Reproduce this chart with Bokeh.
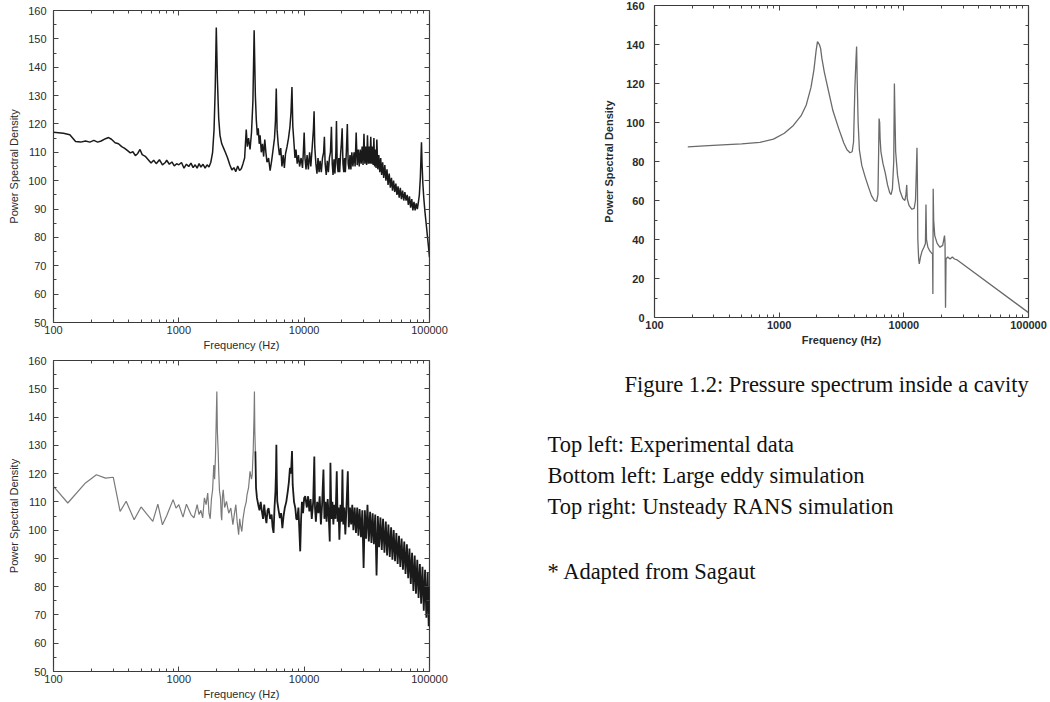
from bokeh.plotting import figure
from bokeh.layouts import row, column
from bokeh.models import FixedTicker, LogAxis, LinearAxis, Label
from bokeh.embed import file_html
from bokeh.resources import INLINE

# ---------------- data ----------------
x_tick_values = [100, 1000, 10000, 100000]
x_tick_labels = ["100", "1000", "10000", "100000"]

# Top left: experimental data (Hz, PSD)
exp_points = [
    (100, 117.1), (120, 116.7), (135, 116.2), (150, 113.8), (165, 113.6), (180, 114.0),
    (195, 113.6), (210, 114.2), (225, 113.6), (240, 114.0), (260, 114.8), (275, 115.2),
    (290, 114.6), (310, 113.4), (330, 113.0), (350, 112.0), (370, 111.4), (390, 110.6),
    (410, 109.8), (430, 110.2), (450, 108.8), (470, 109.6), (490, 111.0), (510, 109.2),
    (540, 108.6), (570, 107.4), (600, 106.2), (630, 107.2), (660, 106.0), (700, 107.4),
    (740, 105.6), (780, 106.4), (800, 107.2), (840, 105.8), (880, 106.6), (920, 105.2),
    (960, 106.0), (1000, 105.6), (1050, 106.4), (1100, 104.4), (1150, 105.8), (1200, 105.0),
    (1250, 106.2), (1300, 104.6), (1350, 105.6), (1400, 104.4), (1450, 106.0), (1500, 104.8),
    (1560, 105.8), (1620, 104.4), (1680, 105.6), (1740, 104.8), (1800, 106.5), (1860, 110.0),
    (1910, 118.0), (1950, 132.0), (1990, 154.0), (2030, 136.0), (2080, 122.0), (2130, 116.0),
    (2200, 113.0), (2280, 111.4), (2350, 110.0), (2450, 108.0), (2550, 105.6), (2650, 103.8),
    (2750, 104.6), (2850, 103.2), (2950, 105.2), (3050, 103.6), (3150, 104.2), (3250, 106.0),
    (3350, 108.0), (3450, 118.0), (3520, 112.0), (3600, 115.0), (3700, 111.0), (3800, 117.0),
    (3900, 128.0), (3990, 153.0), (4080, 130.0), (4150, 121.5), (4230, 116.0), (4300, 118.5),
    (4380, 113.0), (4450, 116.0), (4550, 110.0), (4650, 113.0), (4750, 108.5), (4850, 114.5),
    (4950, 110.0), (5050, 106.5), (5200, 108.0), (5350, 103.5), (5500, 107.0), (5650, 111.0),
    (5800, 115.0), (5900, 121.0), (5990, 132.5), (6080, 118.0), (6200, 113.0), (6350, 109.0),
    (6500, 111.5), (6650, 105.0), (6800, 109.0), (6950, 104.5), (7100, 109.5), (7300, 112.0),
    (7500, 115.0), (7700, 119.0), (7850, 124.0), (7990, 133.0), (8120, 119.0), (8300, 113.0),
    (8450, 108.0), (8600, 111.0), (8800, 106.0), (9000, 109.0), (9200, 105.0), (9450, 108.0),
    (9700, 104.5), (9850, 110.0), (10000, 117.0), (10150, 108.0), (10350, 104.0), (10550, 109.0),
    (10800, 104.0), (11050, 110.0), (11300, 105.0), (11600, 112.0), (11850, 118.0), (12000, 124.5),
    (12150, 112.0), (12400, 106.0), (12650, 102.5), (12900, 108.0), (13150, 103.0), (13400, 107.0),
    (13700, 103.0), (14000, 108.0), (14300, 110.0), (14500, 115.5), (14700, 106.0), (15000, 102.0),
    (15300, 107.0), (15600, 103.0), (15900, 108.0), (16200, 110.0), (16500, 119.0), (16750, 106.0),
    (17000, 102.0), (17300, 107.5), (17600, 102.5), (17900, 110.0), (18100, 121.0), (18350, 106.0),
    (18650, 103.0), (18900, 108.0), (19200, 103.0), (19500, 109.0), (19800, 113.0), (20100, 118.5),
    (20400, 106.0), (20700, 103.0), (21000, 108.0), (21300, 103.0), (21700, 110.0), (22100, 120.0),
    (22450, 106.0), (22800, 104.0), (23200, 109.0), (23600, 104.0), (24000, 110.0), (24500, 105.0),
    (25000, 110.0), (25500, 105.0), (26000, 117.0), (26500, 105.5), (27000, 111.0), (27500, 105.0),
    (28000, 111.0), (28500, 106.0), (29000, 112.0), (29500, 105.5), (30000, 116.5), (30500, 106.0),
    (31000, 112.0), (31500, 105.5), (32000, 116.0), (32500, 106.0), (33000, 112.0), (33500, 106.0),
    (34000, 115.5), (34500, 106.0), (35000, 112.0), (35500, 105.5), (36000, 115.0), (36500, 105.0),
    (37000, 111.0), (37500, 104.5), (38000, 114.5), (38700, 104.0), (39400, 109.0), (40100, 103.0),
    (40800, 108.0), (41500, 102.0), (42300, 106.5), (43100, 101.0), (44000, 105.5), (44900, 100.0),
    (45800, 104.0), (46700, 98.5), (47700, 102.5), (48700, 97.5), (49700, 101.0), (50700, 96.5),
    (51700, 100.0), (52800, 96.0), (53900, 99.0), (55000, 95.0), (56100, 98.0), (57300, 94.0),
    (58500, 97.5), (59700, 93.5), (61000, 96.5), (62300, 93.0), (63600, 96.0), (65000, 93.0),
    (66400, 95.0), (67800, 91.5), (69200, 94.5), (70700, 90.5), (72200, 93.5), (73700, 89.5),
    (75200, 92.5), (76800, 89.5), (78400, 92.0), (80000, 90.0), (81600, 92.5), (83000, 95.0),
    (84500, 101.0), (85500, 108.0), (86300, 113.5), (87200, 106.0), (88500, 99.0), (90000, 94.0),
    (92000, 89.0), (94000, 85.0), (96000, 81.0), (98000, 77.0), (100000, 73.0),
]

# Bottom left: large eddy simulation, low-frequency part (drawn lighter) and dense part
les_low_points = [
    (100, 115.5), (130, 109.6), (180, 116.7), (220, 119.6), (260, 118.4), (300, 118.7),
    (340, 106.6), (380, 110.2), (440, 103.7), (500, 108.2), (560, 105.5), (620, 103.1),
    (680, 109.2), (740, 101.9), (800, 105.1), (900, 110.8), (950, 107.8), (1000, 109.0),
    (1080, 104.6), (1150, 109.2), (1250, 105.5), (1320, 104.3), (1400, 109.0), (1450, 105.5),
    (1500, 107.0), (1550, 104.3), (1600, 111.4), (1650, 109.0), (1700, 113.1), (1740, 106.0),
    (1780, 104.0), (1820, 111.0), (1860, 114.3), (1900, 123.0), (1930, 118.0), (1960, 126.0),
    (1990, 140.0), (2010, 149.0), (2030, 135.0), (2060, 128.0), (2080, 121.0), (2110, 114.0),
    (2150, 111.4), (2180, 105.0), (2200, 103.5), (2230, 112.0), (2260, 114.3), (2320, 108.0),
    (2400, 110.2), (2500, 106.0), (2600, 107.8), (2700, 101.9), (2780, 106.0), (2850, 109.0),
    (2920, 103.0), (3000, 98.4), (3060, 104.0), (3100, 102.0), (3180, 99.5), (3250, 104.0),
    (3350, 107.8), (3450, 110.0), (3500, 112.5), (3600, 115.0), (3700, 120.8), (3800, 118.0),
    (3850, 119.6), (3920, 128.0), (3980, 140.0), (4010, 149.0), (4040, 135.0), (4080, 127.9),
]
les_high_points = [
    (4080, 127.9), (4130, 115.0), (4200, 111.4), (4300, 109.0), (4400, 107.0), (4500, 110.0),
    (4600, 106.6), (4700, 104.0), (4800, 109.0), (4900, 105.0), (5000, 102.5), (5100, 107.0),
    (5200, 107.8), (5350, 104.0), (5500, 105.5), (5600, 101.0), (5700, 99.0), (5800, 108.0),
    (5900, 113.7), (5960, 121.0), (6000, 130.2), (6050, 118.0), (6100, 110.2), (6250, 107.0),
    (6400, 104.3), (6550, 106.0), (6700, 100.7), (6850, 105.0), (7000, 107.8), (7200, 110.0),
    (7400, 113.7), (7550, 117.0), (7700, 122.0), (7850, 120.0), (8000, 128.0), (8100, 116.0),
    (8300, 110.0), (8500, 107.8), (8650, 104.0), (8800, 103.7), (9000, 108.0), (9150, 100.0),
    (9300, 92.5), (9450, 104.0), (9600, 110.0), (9800, 106.0), (10000, 111.4), (10200, 112.0),
    (10500, 108.0), (10750, 112.0), (11000, 106.6), (11250, 111.0), (11500, 104.0), (11800, 110.0),
    (12050, 126.0), (12200, 108.0), (12400, 103.0), (12700, 110.0), (13000, 106.0), (13300, 112.0),
    (13600, 102.0), (13900, 109.0), (14250, 121.4), (14500, 104.0), (14800, 110.0), (15100, 103.0),
    (15400, 111.0), (15700, 105.0), (16000, 96.0), (16200, 123.8), (16500, 104.0), (16800, 110.0),
    (17100, 102.0), (17400, 109.0), (17800, 104.0), (18200, 120.8), (18500, 103.0), (18800, 108.0),
    (19100, 96.6), (19500, 109.0), (19900, 103.0), (20200, 121.4), (20500, 102.0), (20900, 108.0),
    (21300, 98.5), (21700, 107.0), (22300, 120.8), (22700, 101.0), (23200, 108.0), (23700, 102.0),
    (24200, 109.0), (24700, 100.0), (25300, 108.0), (25900, 99.0), (26500, 108.0), (27100, 98.0),
    (27700, 107.5), (28400, 97.5), (29100, 107.0), (29800, 86.6), (30500, 107.0), (31200, 97.0),
    (32000, 109.0), (32800, 96.0), (33600, 106.5), (34400, 95.5), (35200, 106.0), (36000, 95.0),
    (36900, 105.5), (37800, 84.0), (38700, 105.0), (39600, 94.0), (40600, 104.5), (41600, 93.0),
    (42600, 104.0), (43700, 92.0), (44800, 103.0), (45900, 91.0), (47000, 102.0), (48200, 90.5),
    (49400, 101.0), (50600, 89.5), (51800, 100.0), (53100, 89.0), (54400, 99.0), (55700, 88.0),
    (57100, 98.0), (58500, 87.0), (59900, 97.0), (61400, 86.0), (62900, 96.0), (64400, 84.5),
    (66000, 95.0), (67600, 83.0), (69200, 93.5), (70900, 81.0), (72600, 92.0), (74400, 78.5),
    (76200, 91.0), (78000, 77.5), (79900, 89.5), (81800, 76.0), (83800, 88.0), (85800, 74.0),
    (87900, 87.0), (90000, 71.5), (92200, 86.0), (94400, 69.0), (96700, 85.0), (98500, 66.0),
    (100000, 80.0),
]

# Top right: unsteady RANS simulation
rans_points = [
    (185, 87.5), (250, 88.0), (350, 88.5), (500, 89.0), (700, 89.8), (900, 91.5),
    (1100, 94.5), (1300, 98.5), (1500, 103.5), (1650, 109.0), (1800, 118.0), (1900, 127.0),
    (1980, 137.0), (2030, 141.5), (2100, 140.0), (2150, 138.0), (2200, 133.0), (2300, 126.0),
    (2450, 118.0), (2700, 106.0), (3000, 97.0), (3300, 89.5), (3500, 86.0), (3700, 84.5),
    (3850, 85.0), (3950, 90.0), (4050, 118.0), (4130, 132.0), (4180, 139.0), (4230, 120.0),
    (4300, 100.0), (4400, 86.0), (4600, 78.0), (4900, 72.0), (5200, 67.0), (5500, 62.5),
    (5800, 60.0), (6050, 59.5), (6200, 63.0), (6280, 85.0), (6330, 102.0), (6400, 100.0),
    (6450, 92.0), (6550, 85.0), (6800, 79.0), (7100, 74.0), (7400, 68.0), (7700, 64.0),
    (7900, 63.0), (8100, 66.0), (8300, 80.0), (8400, 120.0), (8480, 105.0), (8600, 85.0),
    (8900, 73.0), (9300, 65.0), (9800, 61.0), (10200, 60.0), (10400, 63.0), (10550, 68.0),
    (10650, 61.0), (11000, 57.5), (11600, 55.5), (12100, 56.0), (12400, 60.0), (12600, 75.0),
    (12750, 87.0), (12850, 70.0), (12950, 40.0), (13150, 30.0), (13300, 27.5), (13600, 31.0),
    (14000, 34.0), (14500, 36.0), (14900, 38.0), (15050, 58.0), (15200, 40.0), (15600, 36.0),
    (16200, 34.0), (16700, 33.0), (17000, 32.5), (17100, 12.0), (17200, 66.0), (17350, 50.0),
    (17700, 42.0), (18500, 38.0), (19500, 36.0), (20500, 37.0), (21200, 42.0), (21400, 38.0),
    (21600, 5.0), (21800, 30.0), (22500, 31.0), (23500, 30.0), (24500, 31.0), (25500, 30.0),
    (26800, 29.5), (100000, 2.5),
]

caption = "Figure 1.2: Pressure spectrum inside a cavity"
notes = ["Top left: Experimental data",
         "Bottom left: Large eddy simulation",
         "Top right: Unsteady RANS simulation"]
source_note = "* Adapted from Sagaut"

SANS = "Liberation Sans"
SERIF = "Liberation Serif"


def spectrum_fig(y_lo, y_hi, y_major, y_minor, borders, frame, bold=False,
                 ylab_standoff=5, ytick_standoff=7):
    left, right, top, bottom = borders
    p = figure(x_axis_type="log", x_range=(100, 100000), y_range=(y_lo, y_hi),
               frame_width=frame[0], frame_height=frame[1],
               min_border_left=left, min_border_right=right,
               min_border_top=top, min_border_bottom=bottom,
               toolbar_location=None, output_backend="svg")
    p.background_fill_color = "white"
    p.border_fill_color = "white"
    p.grid.visible = False
    p.outline_line_color = "#3a3a3a"
    p.outline_line_width = 1.2
    minor_x = [m * 10 ** e for e in (2, 3, 4) for m in range(2, 10)]
    weight = "bold" if bold else "normal"

    p.xaxis.ticker = FixedTicker(ticks=x_tick_values, minor_ticks=minor_x)
    p.xaxis.major_label_overrides = dict(zip(x_tick_values, x_tick_labels))
    p.yaxis.ticker = FixedTicker(ticks=y_major, minor_ticks=y_minor)
    for ax in (p.xaxis[0], p.yaxis[0]):
        ax.axis_line_color = None
        ax.major_tick_in = 5
        ax.major_tick_out = 0
        ax.minor_tick_in = 3
        ax.minor_tick_out = 0
        ax.major_tick_line_color = "#444444"
        ax.minor_tick_line_color = "#444444"
        ax.major_label_text_font = SANS
        ax.major_label_text_font_size = "11px"
        ax.major_label_text_font_style = weight
        ax.major_label_text_color = "#2b2b2b"
        ax.axis_label_text_font = SANS
        ax.axis_label_text_font_size = "11px"
        ax.axis_label_text_font_style = weight
        ax.axis_label_text_color = "#2b2b2b"
    p.xaxis.axis_label = "Frequency (Hz)"
    p.xaxis.major_label_standoff = 3
    p.xaxis.axis_label_standoff = 2
    p.yaxis.axis_label = "Power Spectral Density"
    p.yaxis.major_label_standoff = ytick_standoff
    p.yaxis.axis_label_standoff = ylab_standoff

    top_ax = LogAxis(ticker=FixedTicker(ticks=x_tick_values, minor_ticks=minor_x))
    right_ax = LinearAxis(ticker=FixedTicker(ticks=y_major, minor_ticks=y_minor))
    for ax in (top_ax, right_ax):
        ax.axis_line_color = None
        ax.major_tick_in = 5
        ax.major_tick_out = 0
        ax.minor_tick_in = 3
        ax.minor_tick_out = 0
        ax.major_tick_line_color = "#444444"
        ax.minor_tick_line_color = "#444444"
        ax.major_label_text_font_size = "1px"
        ax.major_label_text_alpha = 0
        ax.major_label_standoff = 0
    p.add_layout(top_ax, "above")
    p.add_layout(right_ax, "right")
    return p


y_major_left = [50, 60, 70, 80, 90, 100, 110, 120, 130, 140, 150, 160]
y_minor_left = [55, 65, 75, 85, 95, 105, 115, 125, 135, 145, 155]
y_major_right = [0, 20, 40, 60, 80, 100, 120, 140, 160]
y_minor_right = [10, 30, 50, 70, 90, 110, 130, 150]

# top-left
p_tl = spectrum_fig(50, 160, y_major_left, y_minor_left, (53, 111, 10, 30), (376, 312))
p_tl.line([f for f, _ in exp_points], [v for _, v in exp_points],
          line_color="#1a1a1a", line_width=1.5)

# bottom-left
p_bl = spectrum_fig(50, 160, y_major_left, y_minor_left, (53, 111, 7, 32), (376, 311))
p_bl.line([f for f, _ in les_low_points], [v for _, v in les_low_points],
          line_color="#7a7a7a", line_width=1.2)
p_bl.line([f for f, _ in les_high_points], [v for _, v in les_high_points],
          line_color="#1a1a1a", line_width=1.8)

# top-right
p_tr = spectrum_fig(0, 160, y_major_right, y_minor_right, (114, 22, 5, 30), (374, 312),
                    bold=True, ylab_standoff=8, ytick_standoff=10)
p_tr.line([f for f, _ in rans_points], [v for _, v in rans_points],
          line_color="#6a6a6a", line_width=1.3)

# text panel (frame not aligned with the plot above it)
p_txt = figure(width=510, height=355, x_range=(0, 510), y_range=(0, 355),
               min_border=0, toolbar_location=None, output_backend="svg")
try:
    p_txt.frame_align = False
except Exception:
    pass
p_txt.xaxis.visible = False
p_txt.yaxis.visible = False
p_txt.grid.visible = False
p_txt.outline_line_color = None
p_txt.background_fill_color = "white"
p_txt.border_fill_color = "white"

p_txt.add_layout(Label(x=84, y=319, text=caption, text_font=SERIF,
                       text_font_size="22.5px", text_color="#111111",
                       text_baseline="middle"))
for i, t in enumerate(notes):
    p_txt.add_layout(Label(x=7, y=259 - 31 * i, text=t, text_font=SERIF,
                           text_font_size="22.5px", text_color="#111111",
                           text_baseline="middle"))
p_txt.add_layout(Label(x=7, y=132, text=source_note, text_font=SERIF,
                       text_font_size="22.5px", text_color="#111111",
                       text_baseline="middle"))

layout = row(column(p_tl, p_bl), column(p_tr, p_txt))

with open("out.html", "w") as fh:
    fh.write(file_html(layout, INLINE))
